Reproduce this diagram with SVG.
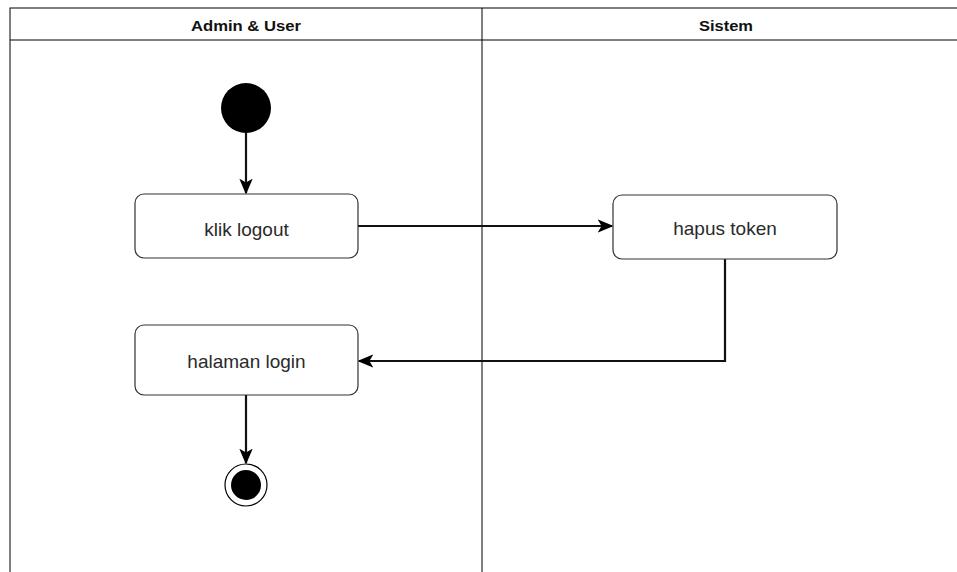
<svg xmlns="http://www.w3.org/2000/svg" width="957" height="572" viewBox="0 0 957 572">
<style>
.lane{fill:none;stroke:#000;stroke-width:1}
.hdr{font-family:"Liberation Sans",Arial,sans-serif;font-size:15px;font-weight:bold;fill:#111;text-anchor:middle}
.box{fill:#fff;stroke:#333;stroke-width:1.2}
.lbl{font-family:"Liberation Sans",Arial,sans-serif;font-size:19px;fill:#2a2a2a;text-anchor:middle}
.edge{fill:none;stroke:#111;stroke-width:2.2}
</style>
<defs>
<marker id="arr" viewBox="0 0 10 10" refX="9" refY="5" markerWidth="16" markerHeight="16" markerUnits="userSpaceOnUse" orient="auto">
<path d="M0,0.8 L10,5 L0,9.2 L2.5,5 Z" fill="#000"/>
</marker>
</defs>
<rect width="957" height="572" fill="#fff"/>
<g id="lanes">
<rect class="lane" x="10" y="8" width="960" height="580"/>
<line class="lane" x1="10" y1="40" x2="957" y2="40"/>
<line class="lane" x1="482" y1="8" x2="482" y2="572"/>
<text class="hdr" x="246" y="31" textLength="110" lengthAdjust="spacingAndGlyphs">Admin &amp; User</text>
<text class="hdr" x="726" y="31" textLength="54" lengthAdjust="spacingAndGlyphs">Sistem</text>
</g>
<g id="edges">
<path class="edge" d="M246,133 V193" marker-end="url(#arr)"/>
<path class="edge" d="M358,226 H612" marker-end="url(#arr)"/>
<path class="edge" d="M725,259 V361 H359" marker-end="url(#arr)"/>
<path class="edge" d="M246,395 V463" marker-end="url(#arr)"/>
</g>
<g id="start"><circle cx="246" cy="108" r="25" fill="#000"/></g>
<g id="klik-logout">
<rect class="box" x="135" y="194" width="223" height="64" rx="9"/>
<text class="lbl" x="246.5" y="236">klik logout</text>
</g>
<g id="hapus-token">
<rect class="box" x="613" y="195" width="224" height="64" rx="9"/>
<text class="lbl" x="725" y="235">hapus token</text>
</g>
<g id="halaman-login">
<rect class="box" x="135" y="325" width="223" height="70" rx="9"/>
<text class="lbl" x="246.5" y="368">halaman login</text>
</g>
<g id="end">
<circle cx="246" cy="485" r="21" fill="#fff" stroke="#000" stroke-width="1.2"/>
<circle cx="246" cy="485" r="15" fill="#000"/>
</g>
</svg>
